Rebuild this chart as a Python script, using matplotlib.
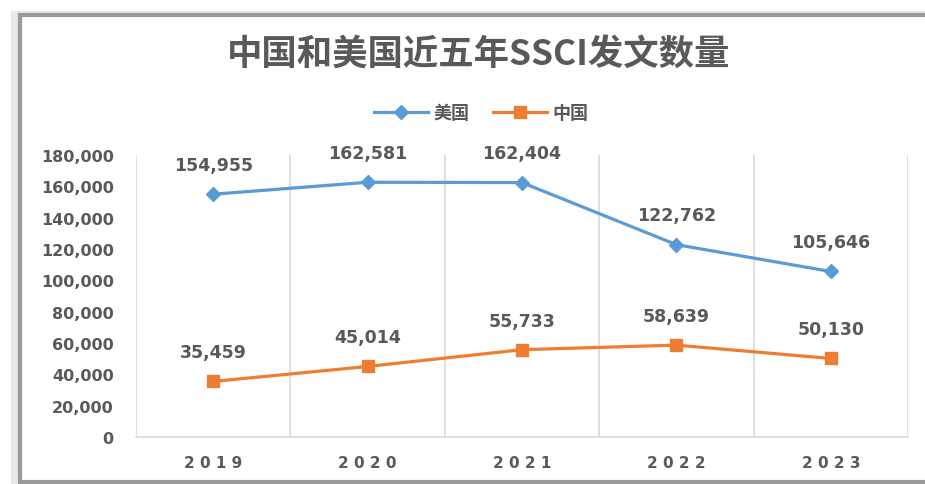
import matplotlib
matplotlib.use("Agg")
import matplotlib.pyplot as plt
from matplotlib.patches import Rectangle
from matplotlib.lines import Line2D

plt.rcParams['font.family'] = ['Noto Sans CJK SC', 'DejaVu Sans']

years = ["2019", "2020", "2021", "2022", "2023"]
usa = [154955, 162581, 162404, 122762, 105646]
china = [35459, 45014, 55733, 58639, 50130]
series_names = ["美国", "中国"]
title = "中国和美国近五年SSCI发文数量"
yticks = [0, 20000, 40000, 60000, 80000, 100000, 120000, 140000, 160000, 180000]

blue = "#5B9BD5"
orange = "#ED7D31"
text_gray = "#595959"
grid_gray = "#D9D9D9"

fig = plt.figure(figsize=(9.25, 4.85), dpi=100)
fig.patch.set_facecolor("white")

# outer frame with shadow
fig.patches.append(Rectangle((0.012, -0.02), 1.1, 0.995, transform=fig.transFigure,
                             facecolor="#E8E8E8", edgecolor="none", zorder=-3))
fig.patches.append(Rectangle((0.022, 0.004), 1.1, 0.963, transform=fig.transFigure,
                             facecolor="white", edgecolor="#9A9A9A", linewidth=3, zorder=-2))

ax = fig.add_axes([0.147, 0.0969, 0.8346, 0.5815])
ax.set_zorder(5)
ax.set_facecolor("none")
x = list(range(len(years)))

ax.plot(x, usa, color=blue, linewidth=2.3, marker="D", markersize=7,
        markerfacecolor=blue, markeredgecolor=blue, label=series_names[0], zorder=3)
ax.plot(x, china, color=orange, linewidth=2.3, marker="s", markersize=9,
        markerfacecolor=orange, markeredgecolor=orange, label=series_names[1], zorder=3)

for xi, v in zip(x, usa):
    ax.annotate(f"{v:,}", (xi, v), xytext=(0, 21), textcoords="offset points",
                ha="center", va="center", fontsize=12.5, fontweight="bold",
                color=text_gray, family=['DejaVu Sans'])
for xi, v in zip(x, china):
    ax.annotate(f"{v:,}", (xi, v), xytext=(0, 21), textcoords="offset points",
                ha="center", va="center", fontsize=12.5, fontweight="bold",
                color=text_gray, family=['DejaVu Sans'])

ax.set_xlim(-0.5, len(years) - 0.5)
ax.set_ylim(0, 180000)
ax.set_yticks(yticks)
ax.set_yticklabels([f"{t:,}" for t in yticks], fontsize=11.5, fontweight="bold",
                   color=text_gray, family=['DejaVu Sans'])
ax.set_xticks(x)
ax.set_xticklabels([" ".join(y) for y in years], fontsize=11, fontweight="bold",
                   color=text_gray, family=['DejaVu Sans'])
ax.tick_params(axis="both", length=0)
ax.tick_params(axis="y", pad=16)
ax.tick_params(axis="x", pad=13)

for b in [i - 0.5 for i in range(len(years) + 1)]:
    ax.axvline(b, color=grid_gray, linewidth=1.2, zorder=1)
for s in ["left", "right", "top"]:
    ax.spines[s].set_visible(False)
ax.spines["bottom"].set_color(grid_gray)
ax.spines["bottom"].set_linewidth(1.2)

fig.text(0.517, 0.887, title, ha="center", va="center", fontsize=25.5,
         fontweight="semibold", color=text_gray)

handles = [Line2D([], [], color=blue, linewidth=2.3, marker="D", markersize=7),
           Line2D([], [], color=orange, linewidth=2.3, marker="s", markersize=9)]
fig.legend(handles, series_names, loc="center", bbox_to_anchor=(0.52, 0.766), ncol=2,
           frameon=False, prop={'size': 13, 'weight': 'bold'}, labelcolor=text_gray,
           handlelength=3.0, handletextpad=0.3, columnspacing=1.3)

fig.savefig("out.png", dpi=100, facecolor="white")
